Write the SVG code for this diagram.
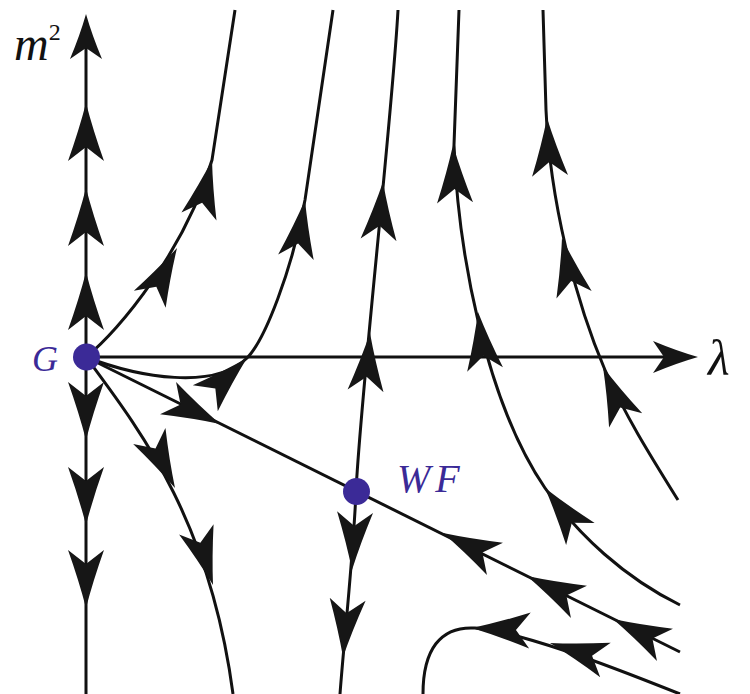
<svg xmlns="http://www.w3.org/2000/svg" width="750" height="694" viewBox="0 0 750 694">
<style>
.tr{fill:none;stroke:#111;stroke-width:3}
.heads{fill:#161616}
.lab{font-family:"Liberation Serif","DejaVu Serif",serif;font-style:italic;fill:#111}
.dot{fill:#3b2a97}
.nl{font-family:"Liberation Serif","DejaVu Serif",serif;font-style:italic;fill:#3b2a97}
</style>
<defs>
<path id="ah" d="M0,0 Q-27,-7 -58,-18 L-44,0 L-58,18 Q-27,7 0,0Z"/>
<path id="ax" d="M0,0 Q-21,-6 -45,-16 L-34,0 L-45,16 Q-21,6 0,0Z"/>
</defs>
<rect width="750" height="694" fill="#fff"/>
<g id="axes">
<line class="tr" x1="86" y1="694" x2="86" y2="40"/>
<line class="tr" x1="86" y1="357" x2="670" y2="357"/>
<g class="heads">
<use href="#ax" transform="translate(86,14) rotate(-90)"/>
<use href="#ax" transform="translate(698,357)"/>
</g>
<text class="lab" x="14" y="60" font-size="48">m<tspan font-style="normal" font-size="24" dy="-20">2</tspan></text>
<text class="lab" x="708" y="375" font-size="50">λ</text>
</g>
<g id="connectors">
<path class="tr" d="M86,357 C120,330 185,250 212,160 L235,10"/>
<path class="tr" d="M86,357 C140,378 215,390 247,358 C265,340 292,270 305,200 L333,10"/>
<path class="tr" d="M86,357 L680,652"/>
<path class="tr" d="M398,10 C392,120 360,400 356,492 C353,560 344,640 340,694"/>
<path class="tr" d="M86,357 C140,430 210,520 233,694"/>
<path class="tr" d="M459,10 L454,145 C458,250 485,400 545,488 C578,535 625,578 680,605"/>
<path class="tr" d="M543,10 L546,110 C550,200 575,300 605,370 C625,415 650,455 678,500"/>
<path class="tr" d="M680,694 C600,662 520,632 475,628 C440,626 423,650 423,694"/>
<g class="heads">
<use href="#ah" transform="translate(86,103) rotate(-90)"/>
<use href="#ah" transform="translate(86,188) rotate(-90)"/>
<use href="#ah" transform="translate(86,272) rotate(-90)"/>
<use href="#ah" transform="translate(86,440) rotate(90)"/>
<use href="#ah" transform="translate(86,525) rotate(90)"/>
<use href="#ah" transform="translate(86,608) rotate(90)"/>
<use href="#ah" transform="translate(177,248) rotate(-62)"/>
<use href="#ah" transform="translate(212,160) rotate(-77)"/>
<use href="#ah" transform="translate(247,358) rotate(-44)"/>
<use href="#ah" transform="translate(305,200) rotate(-81)"/>
<use href="#ah" transform="translate(220,424) rotate(26.4)"/>
<use href="#ah" transform="translate(443,533) rotate(-153.6)"/>
<use href="#ah" transform="translate(527,576) rotate(-153.6)"/>
<use href="#ah" transform="translate(613,619) rotate(-153.6)"/>
<use href="#ah" transform="translate(383,182) rotate(-85.6)"/>
<use href="#ah" transform="translate(370,333) rotate(-85.6)"/>
<use href="#ah" transform="translate(352,570) rotate(93)"/>
<use href="#ah" transform="translate(343,657) rotate(94.6)"/>
<use href="#ah" transform="translate(175,488) rotate(63.7)"/>
<use href="#ah" transform="translate(213,585) rotate(73.3)"/>
<use href="#ah" transform="translate(453,145) rotate(-92)"/>
<use href="#ah" transform="translate(478,312) rotate(-97)"/>
<use href="#ah" transform="translate(545,488) rotate(-127.6)"/>
<use href="#ah" transform="translate(547,118) rotate(-93)"/>
<use href="#ah" transform="translate(562,238) rotate(-102)"/>
<use href="#ah" transform="translate(603,367) rotate(-113)"/>
<use href="#ah" transform="translate(550,643) rotate(-163)"/>
<use href="#ah" transform="translate(472,628) rotate(-177.5)"/>
</g>
</g>
<g id="node-G">
<circle class="dot" cx="86.5" cy="357" r="13.5"/>
<text class="nl" x="32" y="371" font-size="36">G</text>
</g>
<g id="node-WF">
<circle class="dot" cx="356.5" cy="491.5" r="13.5"/>
<text class="nl" x="397" y="492" font-size="40" letter-spacing="5">WF</text>
</g>
</svg>
